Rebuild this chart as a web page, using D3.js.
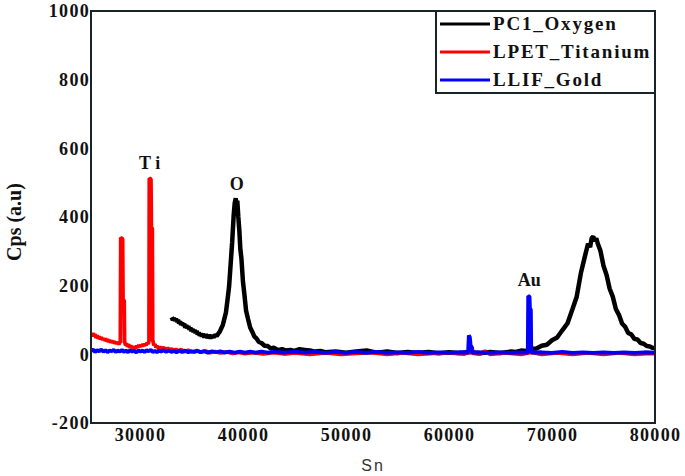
<!DOCTYPE html>
<html>
<head>
<meta charset="utf-8">
<script src="https://cdn.jsdelivr.net/npm/d3@7"></script>
<style>
  body { margin: 0; background: #fff; }
  svg { display: block; }
  .tick text { font-family: "Liberation Serif", "Times New Roman", Times, serif; font-weight: bold; font-size: 18px; letter-spacing: 1.3px; fill: #111; }
</style>
</head>
<body>
<svg width="685" height="476"></svg>
<script>
// series: [Sn, cps]
var oxygen = [
  [33080,108],[33200,100],[33300,106],[33400,98],[33500,104],[33600,95],[33700,100],[33800,90],[33900,96],[34000,86],
  [34100,92],[34200,84],[34300,89],[34400,78],[34500,85],[34600,76],[34700,82],[34800,72],[34900,78],[35000,68],
  [35100,74],[35200,65],[35300,71],[35400,62],[35500,68],[35600,58],[35700,64],[35800,55],[35900,61],[36000,52],
  [36100,59],[36250,50],[36400,58],[36550,48],[36700,56],[36850,47],[37000,55],[37150,49],[37300,57],[37450,53],
  [37600,60],[37750,66],[37900,76],[38050,86],[38200,104],[38350,122],[38500,158],[38650,196],[38800,260],[38950,325],
  [39100,405],[39200,440],[39300,455],[39350,438],[39450,448],[39550,400],[39650,360],[39750,305],[39850,280],[40000,212],
  [40150,172],[40300,128],[40500,102],[40700,78],[40900,66],[41100,52],[41300,47],[41550,36],[41800,33],[42100,25],
  [42400,24],[42700,17],[43000,19],[43400,12],[43800,15],[44200,11],[44600,13],[45000,10],[45500,15],[46000,13],
  [46500,11],[47000,8],[47500,10],[48000,6],[49000,8],[50000,5],[51000,8],[52000,11],[53000,5],[54000,8],
  [55000,4],[56000,7],[57000,4],[58000,7],[59000,3],[60000,6],[61000,4],[62000,7],[63000,3],[64000,7],
  [65000,4],[66000,8],[66500,7],[67000,11],[67500,10],[68000,16],[68500,17],[69000,25],[69500,28],[70000,41],
  [70500,49],[71000,70],[71500,90],[72000,133],[72400,168],[72800,236],[73200,286],[73500,322],[73700,312],[73850,338],
  [74000,343],[74150,330],[74300,338],[74450,322],[74700,302],[75000,258],[75300,231],[75600,191],[75900,168],[76200,132],
  [76500,115],[76800,90],[77100,80],[77400,62],[77700,58],[78000,45],[78300,43],[78600,33],[78900,31],[79200,24],
  [79500,23],[79800,18],[80000,19]
];

var titanium = [
  [25250,62],[25350,52],[25450,61],[25550,55],[25650,58],[25750,48],[25850,55],[25950,46],[26050,52],[26150,44],
  [26250,50],[26350,42],[26450,47],[26550,40],[26650,46],[26750,38],[26850,44],[26950,36],[27050,42],[27150,34],
  [27250,40],[27350,33],[27450,39],[27550,31],[27650,37],[27750,30],[27850,36],[27950,29],[28050,35],[28100,33],
  [28140,340],[28320,336],[28360,160],[28470,156],[28510,38],[28600,26],[28700,32],[28800,22],[28900,29],[29000,19],
  [29100,26],[29200,18],[29300,24],[29400,16],[29500,23],[29600,18],[29700,25],[29800,20],[29900,27],[30000,21],
  [30100,28],[30200,23],[30300,30],[30400,24],[30500,31],[30600,26],[30700,34],[30800,30],[30880,40],[30910,513],
  [31070,510],[31110,370],[31200,366],[31240,42],[31350,26],[31450,30],[31550,20],[31650,24],[31800,17],[31950,22],
  [32100,15],[32300,20],[32500,13],[32700,18],[32900,12],[33100,16],[33300,10],[33500,15],[33700,9],[34000,14],
  [34300,8],[34700,12],[35100,7],[35500,11],[35900,6],[36300,10],[36800,5],[37300,8],[37800,4],[38400,7],
  [39000,3],[39600,6],[40200,2],[41000,5],[42000,1],[43000,5],[44000,1],[45000,4],[46500,0],[48000,4],
  [49500,0],[51000,3],[52500,5],[54000,0],[55500,4],[57000,0],[58500,3],[60000,4],[61500,1],[62000,6],
  [62150,22],[62250,18],[62350,3],[63000,1],[63500,9],[64000,0],[65500,4],[67000,0],[68000,6],[69000,0],
  [70500,4],[72000,0],[73500,4],[75000,0],[76500,4],[78000,0],[79500,3],[80000,2]
];

var gold = [
  [25250,10],[25450,14],[25650,7],[25850,12],[26050,9],[26250,14],[26450,8],[26650,12],[26850,6],[27050,11],
  [27250,9],[27450,13],[27650,7],[27850,11],[28050,8],[28250,13],[28450,7],[28650,11],[28850,6],[29050,12],
  [29250,8],[29450,11],[29650,5],[29850,12],[30050,8],[30250,11],[30450,7],[30650,12],[30850,9],[31050,13],
  [31250,7],[31450,10],[31650,6],[31850,11],[32050,8],[32300,12],[32550,7],[32800,11],[33050,7],[33300,10],
  [33550,6],[33800,10],[34100,7],[34400,11],[34700,6],[35000,9],[35300,7],[35600,10],[35900,6],[36200,9],
  [36600,5],[37000,9],[37400,6],[37800,9],[38200,5],[38700,8],[39200,5],[39700,8],[40200,5],[40700,8],
  [41200,5],[41800,8],[42400,5],[43000,7],[44000,5],[45000,8],[46000,5],[47000,7],[48000,4],[49000,7],
  [50000,4],[51000,7],[52000,4],[53000,7],[54000,4],[55000,6],[56000,4],[57000,7],[58000,4],[59000,6],
  [60000,4],[61000,6],[61850,5],[61930,55],[62030,50],[62100,26],[62200,22],[62260,5],[63000,6],[64000,4],
  [65000,6],[66000,4],[67000,6],[67650,5],[67690,170],[67820,168],[67860,134],[67950,130],[67990,5],[69000,6],
  [70000,4],[71000,7],[72000,4],[73000,6],[74000,4],[75000,6],[76000,4],[77000,6],[78000,4],[79000,6],
  [80000,5]
];

var seriesNames = ["PC1_Oxygen", "LPET_Titanium", "LLIF_Gold"];
var seriesColors = ["#000000", "#ff0000", "#0000ff"];
var xTicks = [30000, 40000, 50000, 60000, 70000, 80000];
var yTicks = [-200, 0, 200, 400, 600, 800, 1000];
var peakLabels = [
  {text: "T i", x: 30950, y: 540},
  {text: "O", x: 39400, y: 480},
  {text: "Au", x: 67800, y: 200}
];

var svg = d3.select("svg"), width = +svg.attr("width"), height = +svg.attr("height");
var margin = {top: 11, right: 30, bottom: 53, left: 91};
var w = width - margin.left - margin.right, h = height - margin.top - margin.bottom;

var x = d3.scaleLinear().domain([25250, 80000]).range([0, w]);
var y = d3.scaleLinear().domain([-200, 1000]).range([h, 0]);

var g = svg.append("g").attr("transform", "translate(" + margin.left + "," + margin.top + ")");

g.append("defs").append("clipPath").attr("id", "plotclip")
 .append("rect").attr("width", w).attr("height", h);

// axes, labels only (plain hyphen for negatives)
var xAxis = g.append("g").attr("transform", "translate(0," + h + ")")
  .call(d3.axisBottom(x).tickValues(xTicks).tickSize(0).tickPadding(5).tickFormat(function(d) { return String(d); }));
xAxis.select(".domain").remove();

var yAxis = g.append("g")
  .call(d3.axisLeft(y).tickValues(yTicks).tickSize(0).tickPadding(1).tickFormat(function(d) { return String(d); }));
yAxis.select(".domain").remove();

var line = d3.line().x(function(d) { return x(d[0]); }).y(function(d) { return y(d[1]); });

var plot = g.append("g").attr("clip-path", "url(#plotclip)");
var drawOrder = [[oxygen, 0, 4.5], [titanium, 1, 3.8], [gold, 2, 3.8]];
drawOrder.forEach(function(s)
{
  plot.append("path")
      .datum(s[0])
      .attr("d", line)
      .attr("fill", "none")
      .attr("stroke", seriesColors[s[1]])
      .attr("stroke-width", s[2])
      .attr("stroke-linejoin", "bevel");
});

// peak annotations
g.selectAll(".peak")
 .data(peakLabels)
 .enter()
 .append("text")
 .attr("class", "peak")
 .attr("x", function(d) { return x(d.x); })
 .attr("y", function(d) { return y(d.y); })
 .attr("text-anchor", "middle")
 .style("font-family", "'Liberation Serif', 'Times New Roman', serif")
 .style("font-weight", "bold")
 .style("font-size", "18px")
 .style("fill", "#111")
 .text(function(d) { return d.text; });

// frame
g.append("rect").attr("width", w).attr("height", h)
 .attr("fill", "none").attr("stroke", "#1a2428").attr("stroke-width", 2);

// legend
var lg = g.append("g").attr("transform", "translate(" + (w - 219) + ",0)");
lg.append("rect").attr("width", 219).attr("height", 82)
  .attr("fill", "#fff").attr("stroke", "#1a2428").attr("stroke-width", 2);
seriesNames.forEach(function(name, i)
{
  var ry = 13 + i * 28;
  lg.append("line").attr("x1", 4).attr("x2", 54).attr("y1", ry).attr("y2", ry)
    .attr("stroke", seriesColors[i]).attr("stroke-width", 3);
  lg.append("text").attr("x", 57).attr("y", ry + 6)
    .style("font-family", "'Liberation Serif', 'Times New Roman', serif")
    .style("font-weight", "bold")
    .style("font-size", "19px")
    .style("letter-spacing", "1.8px")
    .style("fill", "#111")
    .text(name);
});

// axis titles
svg.append("text")
   .attr("transform", "translate(21," + 222 + ") rotate(-90)")
   .attr("text-anchor", "middle")
   .style("font-family", "'Liberation Serif', 'Times New Roman', serif")
   .style("font-weight", "bold")
   .style("font-size", "20px")
   .style("fill", "#111")
   .text("Cps (a.u)");

svg.append("text")
   .attr("x", margin.left + w / 2)
   .attr("y", 471)
   .attr("text-anchor", "middle")
   .style("font-family", "'Liberation Sans', Arial, sans-serif")
   .style("font-size", "16px")
   .style("letter-spacing", "2px")
   .style("fill", "#333")
   .text("Sn");
</script>
</body>
</html>
